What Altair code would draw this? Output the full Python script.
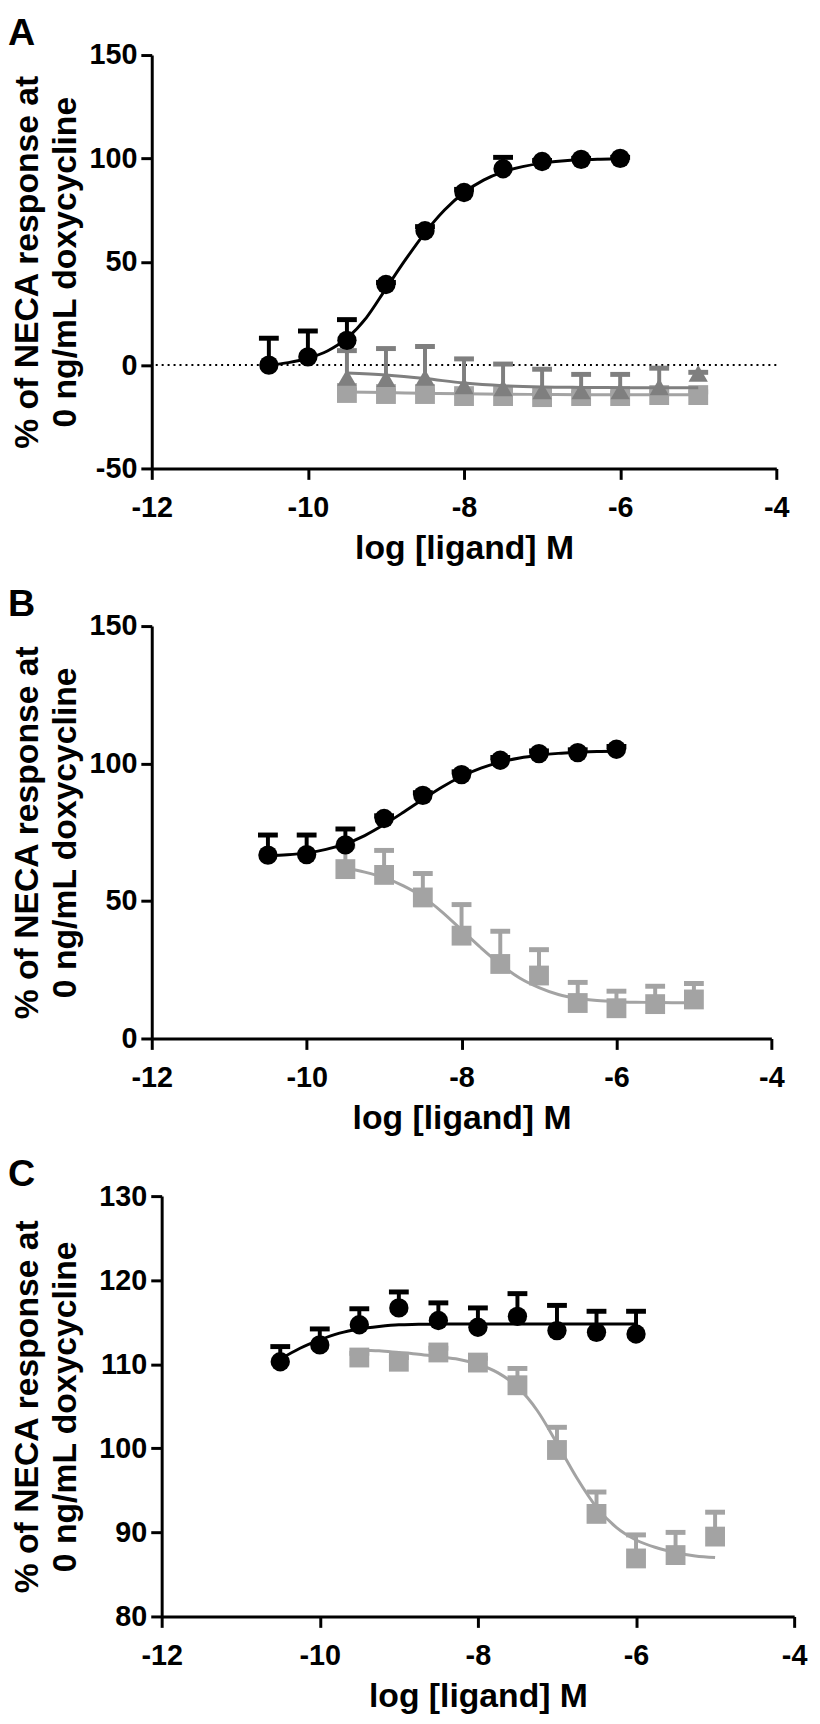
import altair as alt
import pandas as pd

FONT = "Liberation Sans"
BLACK = "#000000"
DARK = "#7f7f7f"
LIGHT = "#a3a3a3"

# concentrations (log M)
X_BLACK = [-10.5, -10, -9.5, -9, -8.5, -8, -7.5, -7, -6.5, -6]
X_GRAY = [-9.5, -9, -8.5, -8, -7.5, -7, -6.5, -6, -5.5, -5]
XC_BLACK = [-10.5, -10.25, -10, -9.75, -9.5, -9.25, -9, -8.75, -8.5, -8.25,
            -8, -7.75, -7.5, -7.25, -7, -6.75, -6.5, -6.25, -6]
XC_GRAY = [-9.5, -9.25, -9, -8.75, -8.5, -8.25, -8, -7.75, -7.5, -7.25,
           -7, -6.75, -6.5, -6.25, -6, -5.75, -5.5, -5.25, -5]
XC_GRAY_A = [-9.5, -9, -8.5, -8, -7.5, -7, -6.5, -6, -5.5, -5]

# ---- Panel A ----
A_circ_y = [0, 4, 12, 39, 65, 83.5, 95, 98.5, 99.5, 100]
A_circ_err = [13, 12.5, 10, 1, 2, 1.5, 5.5, 0.5, 0.5, 0.5]
A_circ_curve = [0, 1.2, 3.3, 6.8, 13, 23, 37, 51, 64, 75,
                83.5, 89.5, 93.5, 96, 97.7, 98.7, 99.3, 99.6, 99.8]
A_tri_y = [-6, -6.5, -6, -10, -11, -12.5, -12.5, -12.5, -10.5, -4]
A_tri_err = [13, 14.5, 15, 13, 11.5, 10.5, 8, 8, 9, 0.5]
A_tri_curve = [-3.8, -4.8, -6.5, -8.7, -10, -10.6, -10.8, -10.9, -11, -11]
A_sq_y = [-13.5, -14, -14, -15, -15, -15.5, -15, -15, -14.5, -14.5]
A_sq_err = [1.5, 1.5, 1.5, 1.5, 1.5, 1.5, 1.5, 1.5, 1.5, 1.5]
A_sq_curve = [-13, -13.3, -13.6, -13.9, -14.1, -14.2, -14.3, -14.3, -14.3, -14.3]

# ---- Panel B ----
B_circ_y = [66.7, 66.9, 70.4, 80, 88.4, 96, 101.2, 103.6, 104, 105.2]
B_circ_err = [7.3, 7.1, 5.8, 1, 1, 1, 1, 1, 1, 1]
B_circ_curve = [66.5, 66.8, 67.5, 68.8, 70.8, 73.8, 77.8, 82.3, 87, 91.5,
                95.3, 98.3, 100.5, 102, 103, 103.7, 104.1, 104.4, 104.5]
B_sq_y = [61.6, 59.5, 51.3, 37.4, 27.1, 22.9, 12.9, 11, 12.5, 14.2]
B_sq_err = [8.4, 8.9, 8.7, 11.3, 11.9, 9.4, 7.5, 6.2, 6.5, 5.8]
B_sq_curve = [62, 60.5, 58.5, 55.5, 51.5, 46, 39.5, 33, 27, 22,
              18.5, 16, 14.6, 13.8, 13.4, 13.2, 13.1, 13, 13]

# ---- Panel C ----
C_circ_y = [110.3, 112.3, 114.7, 116.7, 115.2, 114.4, 115.7, 114.0, 113.8, 113.6]
C_circ_err = [1.8, 1.9, 1.9, 1.9, 2.1, 2.3, 2.7, 3.0, 2.5, 2.7]
C_circ_curve = [110.6, 111.9, 112.9, 113.7, 114.2, 114.5, 114.7, 114.75, 114.8, 114.8,
                114.8, 114.8, 114.8, 114.8, 114.8, 114.8, 114.8, 114.8, 114.8]
C_sq_y = [110.8, 110.3, 111.4, 110.2, 107.5, 99.8, 92.2, 86.9, 87.3, 89.5]
C_sq_err = [0.5, 0.5, 0.5, 0.5, 2, 2.7, 2.6, 2.8, 2.7, 2.9]
C_sq_curve = [111.7, 111.6, 111.4, 111.2, 110.9, 110.6, 110.0, 109.0, 107.3, 104.5,
              100.6, 96.5, 93.0, 90.6, 89.1, 88.2, 87.6, 87.2, 87.0]

Y_TITLE = ["% of NECA response at", "0 ng/mL doxycycline"]
X_TITLE = "log [ligand] M"
X_TICKS = [-12, -10, -8, -6, -4]


def make_axes(yticks, title_pad, y_offset):
    xaxis = alt.Axis(values=X_TICKS, title=X_TITLE, grid=False,
                     labelExpr="'' + datum.value", labelFlush=False, labelOverlap=False,
                     domainColor="black", domainWidth=3, tickColor="black", tickWidth=3,
                     tickSize=11, labelFont=FONT, labelFontSize=29, labelFontWeight="bold",
                     labelColor="black", labelPadding=14, titleFont=FONT, titleFontSize=34,
                     titleFontWeight="bold", titleColor="black", titlePadding=10)
    yaxis = alt.Axis(values=yticks, title=Y_TITLE, grid=False,
                     labelExpr="'' + datum.value", labelFlush=False, labelOverlap=False,
                     domainColor="black", domainWidth=3, tickColor="black", tickWidth=3,
                     tickSize=11, labelFont=FONT, labelFontSize=29, labelFontWeight="bold",
                     labelColor="black", labelPadding=4, titleFont=FONT, titleFontSize=34,
                     titleFontWeight="bold", titleColor="black", titlePadding=title_pad,
                     titleLineHeight=38, offset=y_offset)
    return xaxis, yaxis


def series_layers(xs, ys, errs, xc, yc, color, shape, size, xenc, yenc_fn):
    pts = pd.DataFrame({"x": xs, "y": ys, "top": [a + b for a, b in zip(ys, errs)]})
    crv = pd.DataFrame({"x": xc, "y": yc})
    line = alt.Chart(crv).mark_line(color=color, strokeWidth=3, interpolate="monotone").encode(
        x=xenc("x"), y=yenc_fn("y"))
    stem = alt.Chart(pts).mark_rule(color=color, strokeWidth=4).encode(
        x=xenc("x"), y=yenc_fn("y"), y2="top:Q")
    cap = alt.Chart(pts).mark_tick(color=color, thickness=5, size=20, orient="horizontal",
                                   opacity=1).encode(x=xenc("x"), y=yenc_fn("top"))
    mk = alt.Chart(pts).mark_point(shape=shape, filled=True, color=color, size=size,
                                   opacity=1).encode(x=xenc("x"), y=yenc_fn("y"))
    return [line, stem, cap, mk]


def panel(letter, ydom, yticks, width, height, series, title_pad=7, inset=0,
          zero_line=False):
    xaxis, yaxis = make_axes(yticks, title_pad, -inset)
    xscale = alt.Scale(domain=[-12, -4], nice=False, zero=False, range=[inset, width])

    def xenc(f):
        return alt.X(f"{f}:Q", scale=xscale, axis=xaxis)

    def yenc(f):
        return alt.Y(f"{f}:Q", scale=alt.Scale(domain=ydom, nice=False, zero=False),
                     axis=yaxis)

    layers = []
    if zero_line:
        layers.append(alt.Chart(pd.DataFrame({"y": [0]})).mark_rule(
            color="black", strokeWidth=2, strokeDash=[2, 4]).encode(y=yenc("y")))
    for s in series:
        layers += series_layers(*s, xenc, yenc)
    lab = alt.Chart(pd.DataFrame({"t": [letter]})).mark_text(
        align="left", baseline="top", font=FONT, fontSize=38, fontWeight="bold",
        color="black").encode(x=alt.value(-145), y=alt.value(-40), text="t:N")
    layers.append(lab)
    return alt.layer(*layers).properties(width=width, height=height)


pA = panel("A", [-50, 150], [-50, 0, 50, 100, 150], 630, 417, [
    (X_GRAY, A_sq_y, A_sq_err, XC_GRAY_A, A_sq_curve, LIGHT, "square", 400),
    (X_GRAY, A_tri_y, A_tri_err, XC_GRAY_A, A_tri_curve, DARK, "triangle-up", 380),
    (X_BLACK, A_circ_y, A_circ_err, XC_BLACK, A_circ_curve, BLACK, "circle", 380),
], zero_line=True)

pB = panel("B", [0, 150], [0, 50, 100, 150], 625, 416, [
    (X_GRAY, B_sq_y, B_sq_err, XC_GRAY, B_sq_curve, LIGHT, "square", 400),
    (X_BLACK, B_circ_y, B_circ_err, XC_BLACK, B_circ_curve, BLACK, "circle", 380),
])

pC = panel("C", [80, 130], [80, 90, 100, 110, 120, 130], 648, 424, [
    (X_GRAY, C_sq_y, C_sq_err, XC_GRAY, C_sq_curve, LIGHT, "square", 400),
    (X_BLACK, C_circ_y, C_circ_err, XC_BLACK, C_circ_curve, BLACK, "circle", 380),
], title_pad=17, inset=10)

chart = alt.vconcat(pA, pB, pC, spacing=159, bounds="flush",
                    padding={"left": 0, "top": 0, "right": 5, "bottom": 0}
                    ).configure_view(stroke=None)

chart.save("out.html", embed_options={"renderer": "svg", "actions": False})
